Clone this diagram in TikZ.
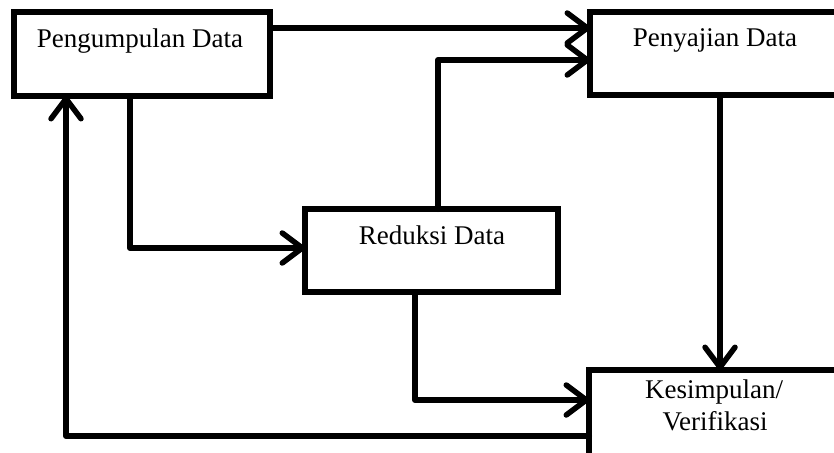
\documentclass[tikz,border=0pt]{standalone}
\usepackage{fontspec}
\setmainfont{Liberation Serif}
\usetikzlibrary{arrows.meta}
\begin{document}
\begin{tikzpicture}[x=1pt,y=-1pt,
  box/.style={draw=black,line width=5.5pt,fill=white,rectangle,inner sep=0pt,outer sep=0pt},
  lbl/.style={font=\fontsize{27}{32}\selectfont,inner sep=0pt,anchor=base},
  arr/.style={line width=6pt,line cap=round,line join=round,-{Straight Barb[length=20pt,width=30pt,line width=5.5pt,line cap=round,line join=round]}}]
\useasboundingbox (0,0) rectangle (834,452);
\node[box,minimum width=256pt,minimum height=84pt] (P1) at (142,54) {};
\node[box,minimum width=250pt,minimum height=83pt] (P2) at (715,53.5) {};
\node[box,minimum width=253pt,minimum height=83pt] (R) at (431.5,250.5) {};
\node[box,minimum width=251pt,minimum height=90pt] (K) at (714.5,415) {};
\node[lbl] (t1) at (140,48) {Pengumpulan Data};
\node[lbl] (t2) at (715,46) {Penyajian Data};
\node[lbl] (t3) at (432,244) {Reduksi Data};
\node[lbl] (t4) at (714,398) {Kesimpulan/};
\node[lbl] (t5) at (715,430) {Verifikasi};
\coordinate (c1) at (0,28);
\coordinate (c2) at (438,60);
\coordinate (c3) at (130,248);
\coordinate (c4) at (720,0);
\coordinate (c5) at (415,400);
\coordinate (c6) at (66,436);
\draw[arr] (P1.east |- c1) -- (P2.west |- c1);
\draw[arr] (R.north -| c2) |- (P2.west |- c2);
\draw[arr] (P1.south -| c3) |- (R.west |- c3);
\draw[arr] (P2.south -| c4) -- (K.north -| c4);
\draw[arr] (R.south -| c5) |- (K.west |- c5);
\draw[arr] (K.west |- c6) -| (P1.south -| c6);
\end{tikzpicture}
\end{document}
